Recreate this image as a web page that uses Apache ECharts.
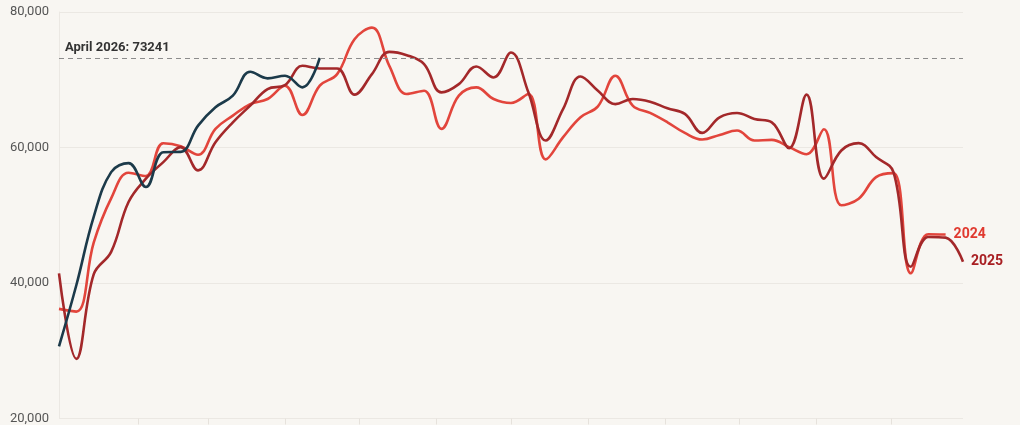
<!DOCTYPE html>
<html>
<head>
<meta charset="utf-8">
<script src="https://cdn.jsdelivr.net/npm/echarts@6/dist/echarts.min.js"></script>
<style>
  html, body { margin: 0; padding: 0; background: #f8f6f2; }
  #chart { width: 1020px; height: 425px; }
</style>
</head>
<body>
<div id="chart"></div>
<script>
// Weekly values (week index 0 = first week of January)
const values2024 = [36180, 35780, 46000, 52500, 56280, 55800, 60630, 60200, 58930, 62750,
  64700, 66400, 67160, 69120, 64800, 69120, 70830, 75980, 77700, 72060,
  67890, 68380, 62750, 67650, 68870, 67160, 66570, 67890, 58240, 61520,
  64460, 66080, 70590, 66180, 65100, 63720, 62150, 61180, 61860, 62500,
  61030, 61130, 60050, 59000, 62700, 51470, 52450, 55630, 56220, 41430,
  47200, 47150];
const values2025 = [41430, 28800, 41300, 44600, 51960, 55400, 57840, 60050, 56620, 60780,
  63720, 66180, 68630, 69220, 72060, 71670, 71670, 67800, 70830, 74120,
  73630, 72310, 68140, 69360, 71960, 70340, 74020, 68140, 61030, 65690,
  70490, 68380, 66400, 67160, 66770, 65780, 64960, 62160, 64460, 65100,
  64220, 63720, 59900, 67800, 55400, 59560, 60640, 58580, 56370, 42400,
  46800, 46700, 43130];
const values2026 = [30630, 39700, 49800, 56370, 57700, 54160, 59300, 59350, 63235, 65930,
  67650, 71180, 70200, 70590, 68870, 73241];
const seriesNames = ['2024', '2025', '2026'];
const yTicks = [20000, 40000, 60000, 80000];
const annotationLabel = 'April 2026';
const annotationValue = 73241;
// month start day-of-year, converted to week units for tick marks
const monthStartDays = [31, 59, 90, 120, 151, 181, 212, 243, 273, 304, 334];

const toPairs = arr => arr.map((v, i) => [i, v]);
const colors = { '2024': '#e2453c', '2025': '#a3282a', '2026': '#1c3a4a' };
const labelColors = { '2024': '#e0392f', '2025': '#a81e22' };

const chart = echarts.init(document.getElementById('chart'), null, { renderer: 'canvas' });
const fontFamily = 'Roboto, "Noto Sans", sans-serif';

function lineSeries(name, data, withEndLabel) {
  return {
    name: name,
    type: 'line',
    data: toPairs(data),
    smooth: 0.4,
    showSymbol: false,
    symbol: 'none',
    lineStyle: { width: 2.6, color: colors[name] },
    itemStyle: { color: colors[name] },
    endLabel: withEndLabel ? {
      show: true,
      formatter: name,
      color: labelColors[name],
      fontWeight: 'bold',
      fontSize: 14,
      fontFamily: fontFamily,
      distance: 8
    } : { show: false },
    emphasis: { disabled: true },
    animation: false
  };
}

const s2026 = lineSeries('2026', values2026, false);
s2026.markLine = {
  silent: true,
  symbol: 'none',
  animation: false,
  lineStyle: { type: [5, 4], color: '#8c8c8c', width: 1.2 },
  label: {
    show: true,
    position: 'insideStartTop',
    formatter: annotationLabel + ': ' + annotationValue,
    color: '#333333',
    fontWeight: 'bold',
    fontSize: 13,
    fontFamily: fontFamily,
    distance: [6, 4]
  },
  data: [{ yAxis: annotationValue }]
};

chart.setOption({
  backgroundColor: '#f8f6f2',
  animation: false,
  grid: { left: 59, right: 57, top: 12, bottom: 6, containLabel: false },
  xAxis: {
    type: 'value',
    min: 0,
    max: 52,
    axisLine: { show: false },
    axisTick: {
      show: true,
      length: 6,
      lineStyle: { color: '#e6e2dc' },
      customValues: monthStartDays.map(d => (d + 1) / 7)
    },
    axisLabel: { show: false },
    splitLine: { show: false }
  },
  yAxis: {
    type: 'value',
    min: yTicks[0],
    max: yTicks[yTicks.length - 1],
    interval: 20000,
    axisLine: { show: true, lineStyle: { color: '#ebe8e3' } },
    axisTick: { show: false },
    axisLabel: {
      color: '#555555',
      fontSize: 13,
      fontFamily: fontFamily,
      margin: 10,
      formatter: v => v.toLocaleString('en-US')
    },
    splitLine: { show: true, lineStyle: { color: '#ebe8e3', width: 1 } }
  },
  series: [
    lineSeries('2024', values2024, true),
    lineSeries('2025', values2025, true),
    s2026
  ]
});
</script>
</body>
</html>
